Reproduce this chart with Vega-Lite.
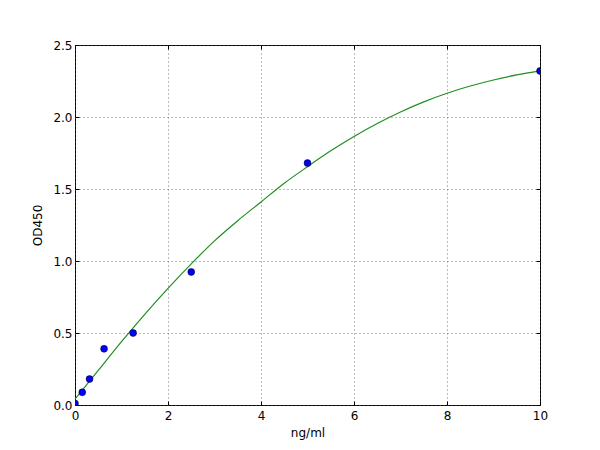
{
  "$schema": "https://vega.github.io/schema/vega-lite/v6.json",
  "width": 465,
  "height": 360,
  "autosize": {"type": "none"},
  "padding": {"left": 75, "top": 45, "right": 60, "bottom": 45},
  "background": "white",
  "datasets": {
    "points": [
      {"conc": 0, "od": 0.01},
      {"conc": 0.156, "od": 0.088},
      {"conc": 0.3125, "od": 0.18},
      {"conc": 0.625, "od": 0.39},
      {"conc": 1.25, "od": 0.5},
      {"conc": 2.5, "od": 0.924},
      {"conc": 5, "od": 1.68},
      {"conc": 10, "od": 2.32}
    ],
    "fit": [
      {"conc": 0, "od": 0.04},
      {"conc": 0.5, "od": 0.24},
      {"conc": 1, "od": 0.44},
      {"conc": 1.5, "od": 0.63},
      {"conc": 2, "od": 0.81},
      {"conc": 2.5, "od": 0.98},
      {"conc": 3, "od": 1.14},
      {"conc": 3.5, "od": 1.28},
      {"conc": 4, "od": 1.41},
      {"conc": 4.5, "od": 1.54},
      {"conc": 5, "od": 1.655},
      {"conc": 5.5, "od": 1.765},
      {"conc": 6, "od": 1.865},
      {"conc": 6.5, "od": 1.955},
      {"conc": 7, "od": 2.035},
      {"conc": 7.5, "od": 2.105},
      {"conc": 8, "od": 2.165},
      {"conc": 8.5, "od": 2.215},
      {"conc": 9, "od": 2.257},
      {"conc": 9.5, "od": 2.292},
      {"conc": 10, "od": 2.32}
    ]
  },
  "config": {
    "font": "DejaVu Sans",
    "view": {"stroke": "black", "strokeWidth": 1},
    "axis": {
      "labelFont": "DejaVu Sans",
      "labelFontSize": 12,
      "labelColor": "black",
      "titleFont": "DejaVu Sans",
      "titleFontSize": 12,
      "titleFontWeight": "normal",
      "titleColor": "black",
      "domain": false,
      "tickColor": "black",
      "tickSize": -4,
      "labelPadding": 7,
      "gridColor": "#555555",
      "gridDash": [1, 3],
      "gridWidth": 1,
      "gridOpacity": 0.8
    }
  },
  "layer": [
    {
      "data": {"name": "fit"},
      "mark": {"type": "line", "color": "#1f8f1f", "strokeWidth": 1.2, "interpolate": "monotone", "clip": true},
      "encoding": {
        "x": {
          "field": "conc",
          "type": "quantitative",
          "scale": {"domain": [0, 10], "nice": false},
          "axis": {"title": "ng/ml", "values": [0, 2, 4, 6, 8, 10], "format": "d", "labelFlush": false, "labelPadding": 9, "titlePadding": 6}
        },
        "y": {
          "field": "od",
          "type": "quantitative",
          "scale": {"domain": [0, 2.5], "nice": false, "zero": false},
          "axis": {"title": "OD450", "values": [0, 0.5, 1, 1.5, 2, 2.5], "format": ".1f", "labelFlush": false, "titlePadding": 8}
        }
      }
    },
    {
      "data": {"name": "points"},
      "mark": {"type": "circle", "color": "#0000ff", "opacity": 1, "size": 48, "stroke": "#000000", "strokeWidth": 0.5, "clip": true},
      "encoding": {
        "x": {
          "field": "conc",
          "type": "quantitative",
          "axis": {"orient": "top", "grid": false, "labels": false, "title": null, "values": [0, 2, 4, 6, 8, 10]}
        },
        "y": {
          "field": "od",
          "type": "quantitative",
          "axis": {"orient": "right", "grid": false, "labels": false, "title": null, "values": [0, 0.5, 1, 1.5, 2, 2.5]}
        }
      }
    }
  ],
  "resolve": {"axis": {"x": "independent", "y": "independent"}}
}
